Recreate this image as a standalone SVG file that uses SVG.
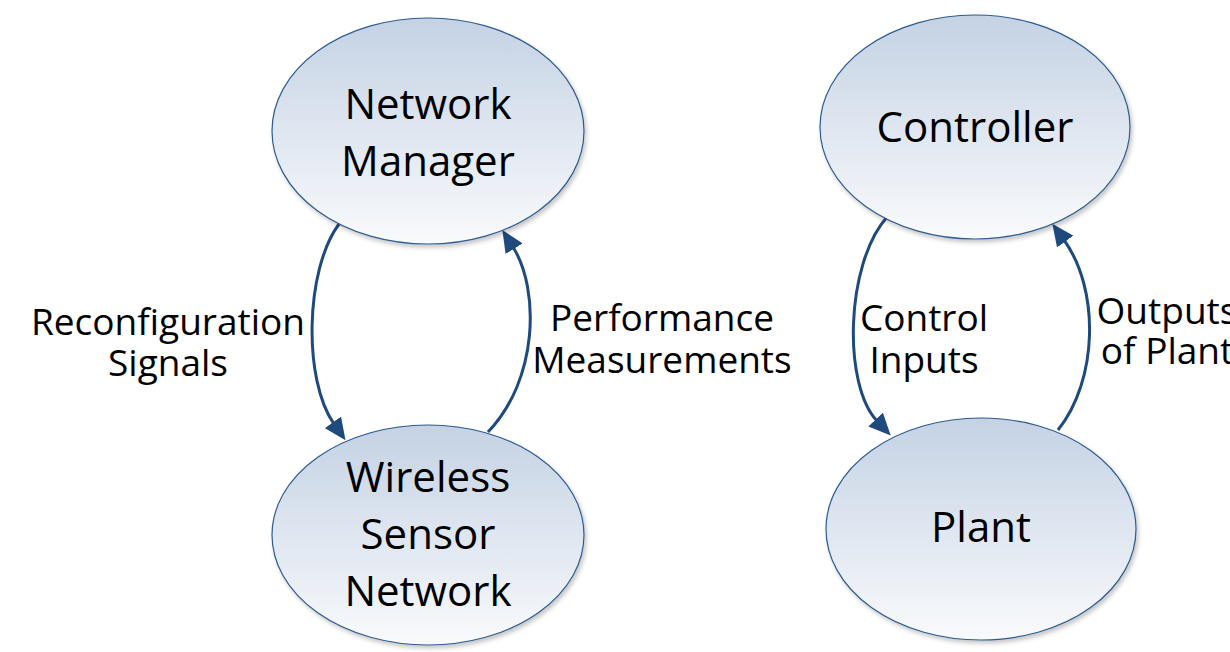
<svg xmlns="http://www.w3.org/2000/svg" width="1230" height="652" viewBox="0 0 1230 652">
  <defs>
    <linearGradient id="fill" x1="0" y1="0" x2="0" y2="1">
      <stop offset="0" stop-color="#c4d2e4"/>
      <stop offset="1" stop-color="#f9fafc"/>
    </linearGradient>
    <filter id="shadow" x="-10%" y="-10%" width="125%" height="125%">
      <feGaussianBlur in="SourceAlpha" stdDeviation="2"/>
      <feOffset dx="2" dy="3" result="b"/>
      <feFlood flood-color="#000" flood-opacity="0.22"/>
      <feComposite in2="b" operator="in"/>
      <feMerge><feMergeNode/><feMergeNode in="SourceGraphic"/></feMerge>
    </filter>
    <marker id="arrow" viewBox="0 0 22 20" refX="2" refY="10" markerWidth="22" markerHeight="20" markerUnits="userSpaceOnUse" orient="auto">
      <path d="M0,0 L22,10 L0,20 Z" fill="#1f4a7e"/>
    </marker>
  </defs>
  <style>
    .node { fill: url(#fill); stroke: #2e5c8f; stroke-width: 1.2; filter: url(#shadow); }
    .nt { font-family: "Open Sans", "Liberation Sans", sans-serif; font-size: 42px; fill: #000; text-anchor: middle; }
    .lt { font-family: "Open Sans", "Liberation Sans", sans-serif; font-size: 37px; fill: #000; text-anchor: middle; }
    .edge { fill: none; stroke: #1f4a7e; stroke-width: 3; marker-end: url(#arrow); }
  </style>
  <rect width="1230" height="652" fill="#fff"/>

  <g id="connectors">
    <path class="edge" d="M339,224 C305,270 303,380 334,424"/>
    <path class="edge" d="M488,432 C538,380 540,290 513,247"/>
    <path class="edge" d="M887,217 C845,265 843,385 877,421"/>
    <path class="edge" d="M1058,430 C1098,380 1100,290 1064,240"/>
  </g>

  <g id="network-manager">
    <ellipse class="node" cx="428" cy="131" rx="156" ry="113"/>
    <text class="nt" x="428" y="119">Network</text>
    <text class="nt" x="428" y="176">Manager</text>
  </g>

  <g id="wireless-sensor-network">
    <ellipse class="node" cx="428" cy="535" rx="156" ry="110"/>
    <text class="nt" x="428" y="492">Wireless</text>
    <text class="nt" x="428" y="549">Sensor</text>
    <text class="nt" x="428" y="606">Network</text>
  </g>

  <g id="controller">
    <ellipse class="node" cx="975" cy="127" rx="155" ry="112"/>
    <text class="nt" x="975" y="142">Controller</text>
  </g>

  <g id="plant">
    <ellipse class="node" cx="981" cy="529" rx="155" ry="111"/>
    <text class="nt" x="981" y="542">Plant</text>
  </g>

  <g id="labels">
    <text class="lt" x="168" y="335">Reconfiguration</text>
    <text class="lt" x="168" y="376">Signals</text>
    <text class="lt" x="662" y="331">Performance</text>
    <text class="lt" x="662" y="373">Measurements</text>
    <text class="lt" x="924" y="331">Control</text>
    <text class="lt" x="924" y="373">Inputs</text>
    <text class="lt" x="1167" y="324">Outputs</text>
    <text class="lt" x="1167" y="364">of Plant</text>
  </g>
</svg>
